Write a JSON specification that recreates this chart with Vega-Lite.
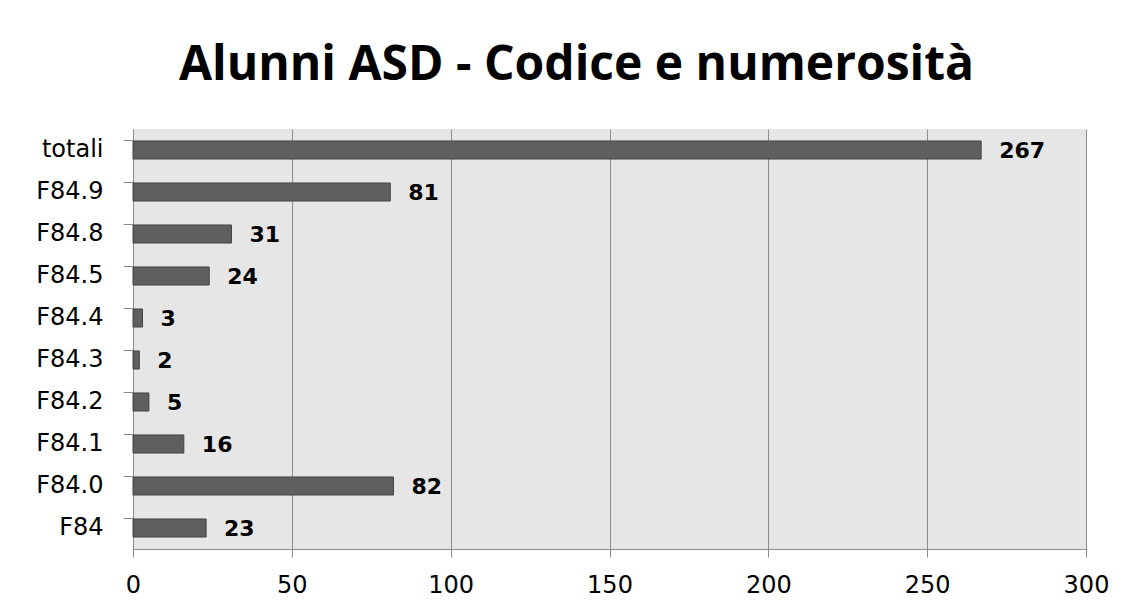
{
  "$schema": "https://vega.github.io/schema/vega-lite/v6.json",
  "autosize": "none",
  "width": 953,
  "height": 420,
  "padding": {"left": 133, "top": 129, "right": 46, "bottom": 64},
  "background": "white",
  "title": {
    "text": "Alunni ASD - Codice e numerosità",
    "font": "Open Sans",
    "fontSize": 48,
    "fontWeight": "bold",
    "color": "#000000",
    "anchor": "middle",
    "baseline": "alphabetic",
    "offset": 1,
    "dx": -33
  },
  "data": {
    "values": [
      {"codice": "totali", "n": 267},
      {"codice": "F84.9", "n": 81},
      {"codice": "F84.8", "n": 31},
      {"codice": "F84.5", "n": 24},
      {"codice": "F84.4", "n": 3},
      {"codice": "F84.3", "n": 2},
      {"codice": "F84.2", "n": 5},
      {"codice": "F84.1", "n": 16},
      {"codice": "F84.0", "n": 82},
      {"codice": "F84", "n": 23}
    ]
  },
  "encoding": {
    "y": {
      "field": "codice",
      "type": "nominal",
      "sort": null,
      "scale": {"paddingInner": 0.57, "paddingOuter": 0.285},
      "axis": {
        "title": null,
        "bandPosition": 0,
        "labelFont": "DejaVu Sans",
        "labelFontSize": 24,
        "labelColor": "#000000",
        "tickSize": 10,
        "tickColor": "#8c8c8c",
        "domainColor": "#8c8c8c",
        "labelPadding": 20,
        "grid": false
      }
    },
    "x": {
      "field": "n",
      "type": "quantitative",
      "scale": {"domain": [0, 300], "nice": false},
      "axis": {
        "title": null,
        "values": [0, 50, 100, 150, 200, 250, 300],
        "labelFont": "DejaVu Sans",
        "labelFontSize": 24,
        "labelColor": "#000000",
        "tickSize": 8,
        "tickColor": "#8c8c8c",
        "domainColor": "#8c8c8c",
        "gridColor": "#8c8c8c",
        "gridOpacity": 1,
        "labelPadding": 16,
        "labelFlush": false
      }
    }
  },
  "layer": [
    {
      "mark": {"type": "bar", "color": "#5f5f5f", "stroke": "#444444", "strokeWidth": 1}
    },
    {
      "mark": {
        "type": "text",
        "align": "left",
        "baseline": "middle",
        "dx": 18,
        "dy": 1,
        "font": "DejaVu Sans",
        "fontSize": 22,
        "fontWeight": "bold",
        "color": "#000000"
      },
      "encoding": {"text": {"field": "n", "type": "quantitative"}}
    }
  ],
  "config": {
    "view": {"fill": "#e6e6e6", "stroke": null}
  }
}
